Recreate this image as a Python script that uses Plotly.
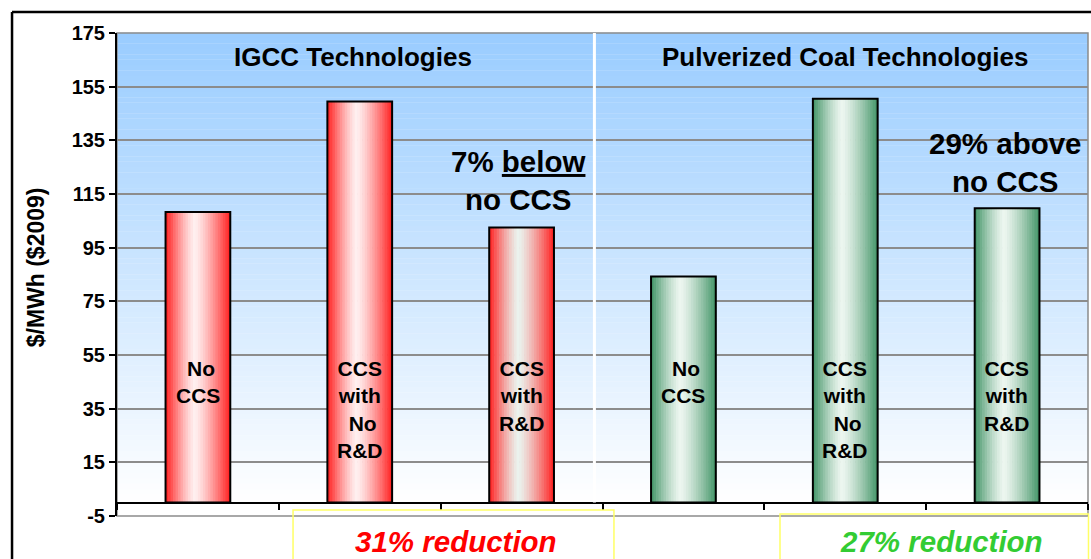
import plotly.graph_objects as go

# bar data ($/MWh, 2009 dollars)
categories = ["IGCC No CCS", "IGCC CCS No R&D", "IGCC CCS R&D",
              "PC No CCS", "PC CCS No R&D", "PC CCS R&D"]
costs = [108.3, 149.5, 102.5, 84.3, 150.5, 109.7]
bar_labels = ["\u00a0No<br>CCS", "CCS<br>with<br>\u00a0No<br>R&D", "CCS<br>with<br>R&D",
              "\u00a0No<br>CCS", "CCS<br>with<br>\u00a0No<br>R&D", "CCS<br>with<br>R&D"]
y_ticks = [-5, 15, 35, 55, 75, 95, 115, 135, 155, 175]
group_titles = ["IGCC Technologies", "Pulverized Coal Technologies"]
callouts = ["7% <u>below</u><br>no CCS", "29% above<br>no CCS"]
reductions = ["31% reduction", "27% reduction"]

# styles
edge_colors = ["#FF1E1E", "#FF1E1E", "#FF1E1E", "#419466", "#419466", "#419466"]
center_colors = ["#FFF0F0", "#FFF0F0", "#EBF3EE", "#EDF6F0", "#EDF6F0", "#EDF6F0"]
FONT = "Liberation Sans, Arial, sans-serif"
BAR_W = 0.40
N_SLICES = 26
N_BANDS = 90


def hex_rgb(h):
    h = h.lstrip("#")
    return [int(h[i:i + 2], 16) for i in (0, 2, 4)]


def mix(c1, c2, f):
    a, b = hex_rgb(c1), hex_rgb(c2)
    return "rgb({},{},{})".format(*[round(a[i] + (b[i] - a[i]) * f) for i in range(3)])


fig = go.Figure()

# bars drawn as thin vertical slices to get the horizontal shading
sw = BAR_W / N_SLICES
for i in range(N_SLICES):
    t = (i + 0.5) / N_SLICES
    c = 0.45
    d = abs(t - c) / (c if t < c else 1 - c)
    f = 1 - d ** 1.3
    fig.add_trace(go.Bar(
        x=categories, y=costs,
        width=sw * 1.25, offset=-BAR_W / 2 + i * sw,
        marker=dict(color=[mix(e, m, f) for e, m in zip(edge_colors, center_colors)],
                    line=dict(width=0)),
        hoverinfo="skip",
    ))
# outline
fig.add_trace(go.Bar(
    x=categories, y=costs, width=BAR_W,
    marker=dict(color="rgba(0,0,0,0)", line=dict(color="black", width=2)),
    hovertemplate="%{x}: %{y:.1f}<extra></extra>",
))

ymin, ymax = y_ticks[0], y_ticks[-1]

shapes = []
# blue-to-white background
top = "#99CCFF"
for k in range(N_BANDS):
    yc = (k + 0.5) / N_BANDS
    v = ymin + yc * (ymax - ymin)
    g = max(0.0, v / ymax)
    shapes.append(dict(type="rect", xref="x domain", yref="y domain",
                       x0=0, x1=1, y0=k / N_BANDS, y1=(k + 1.05) / N_BANDS,
                       fillcolor=mix("#FFFFFF", top, g), line=dict(width=0), layer="below"))
shapes.append(dict(type="rect", xref="x domain", yref="y domain", x0=0, x1=1, y0=0, y1=1,
                   line=dict(color="#8C8C8C", width=1.5), layer="below"))
# white divider between the two groups
shapes.append(dict(type="line", xref="x", yref="y", x0=2.45, x1=2.45, y0=0, y1=ymax,
                   line=dict(color="white", width=3), layer="above"))
# yellow boxes under the chart
shapes.append(dict(type="rect", xref="paper", yref="paper", x0=0.1813, x1=0.5118, y0=-0.25, y1=0.0124,
                   line=dict(color="#FFFF66", width=1.5), layer="above"))
shapes.append(dict(type="rect", xref="paper", yref="paper", x0=0.6828, x1=1.0005, y0=-0.25, y1=0.0041,
                   line=dict(color="#FFFF66", width=1.5), layer="above"))
# slide frame
shapes.append(dict(type="line", xref="paper", yref="paper", x0=-0.1081, x1=1.1, y0=1.0435, y1=1.0435,
                   line=dict(color="black", width=2.5)))
shapes.append(dict(type="line", xref="paper", yref="paper", x0=-0.1081, x1=-0.1081, y0=-0.25, y1=1.0435,
                   line=dict(color="black", width=2.5)))

annotations = []
for x, title in zip([0.96, 4], group_titles):
    annotations.append(dict(x=x, y=166, xref="x", yref="y", text=f"<b>{title}</b>",
                            showarrow=False, font=dict(size=26, family=FONT, color="black")))
for x, y, txt in zip([1.98, 4.99], [120, 126.6], callouts):
    annotations.append(dict(x=x, y=y, xref="x", yref="y", text=f"<b>{txt}</b>",
                            showarrow=False, font=dict(size=29.5, family=FONT, color="black")))
for cat, lab in zip(categories, bar_labels):
    annotations.append(dict(x=cat, y=55, xref="x", yref="y", yanchor="top", text=f"<b>{lab}</b>",
                            showarrow=False, font=dict(size=21, family=FONT, color="black")))
annotations.append(dict(x=-0.0834, y=0.515, xref="paper", yref="paper", xanchor="center",
                        yanchor="middle", textangle=-90,
                        text="<b>$/MWh ($2009)</b>", showarrow=False,
                        font=dict(size=23, family=FONT, color="black")))
for x, txt, col in zip([0.349, 0.8496], reductions, ["#FF0000", "#33CC33"]):
    annotations.append(dict(x=x, y=-0.0538, xref="paper", yref="paper",
                            xanchor="center", yanchor="middle",
                            text=f"<b><i>{txt}</i></b>",
                            showarrow=False, font=dict(size=29.5, family=FONT, color=col)))

fig.update_layout(
    width=1091, height=559,
    margin=dict(l=117, r=3, t=33, b=43),
    paper_bgcolor="white", plot_bgcolor="rgba(0,0,0,0)",
    barmode="overlay", showlegend=False,
    font=dict(family=FONT, color="black"),
    shapes=shapes, annotations=annotations,
    xaxis=dict(type="category", range=[-0.5, 5.5], anchor="free",
               position=(0 - ymin) / (ymax - ymin),
               showline=True, linecolor="black", linewidth=2,
               ticks="outside", tickson="boundaries", ticklen=6, tickcolor="black", tickwidth=1.5,
               showticklabels=False, showgrid=False, fixedrange=True),
    yaxis=dict(range=[ymin, ymax], tickvals=y_ticks, ticktext=[str(v) for v in y_ticks],
               showline=True, linecolor="black", linewidth=2,
               ticks="outside", ticklen=6, tickcolor="black", tickwidth=1.5,
               showgrid=True, gridcolor="#8C8C8C", gridwidth=1.5, zeroline=False,
               tickfont=dict(size=20, family=FONT, color="black", weight="bold"),
               fixedrange=True),
)

fig.write_html("out.html", config={"displayModeBar": False},
               post_script="document.body.style.margin='0';")
